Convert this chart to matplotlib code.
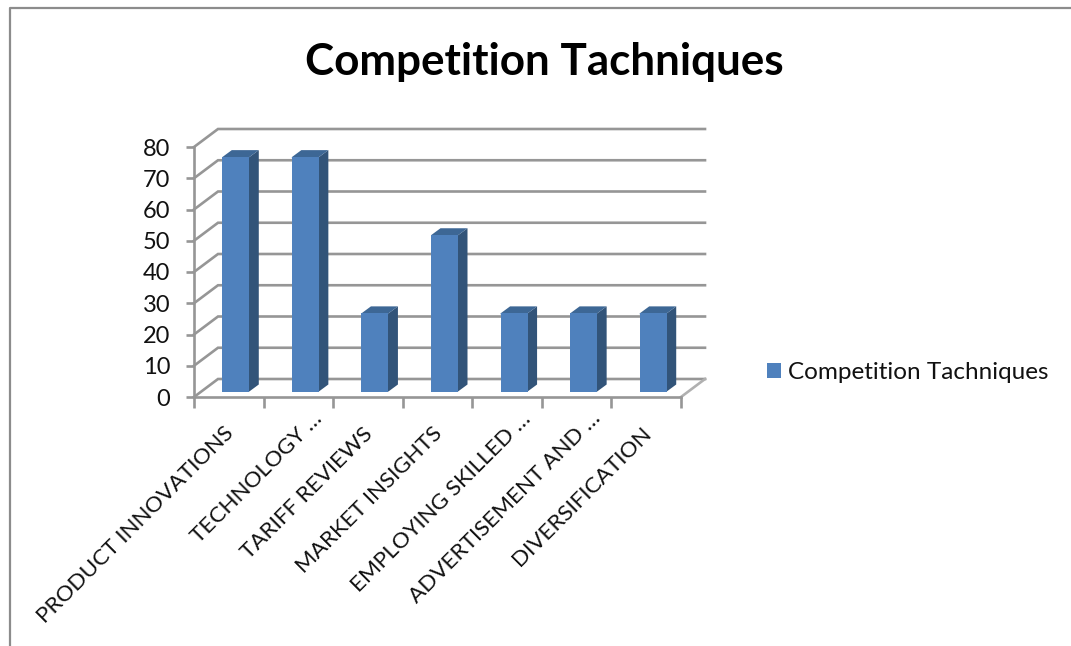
import matplotlib.pyplot as plt
from matplotlib.lines import Line2D
from matplotlib.patches import Polygon
from matplotlib.transforms import ScaledTranslation

plt.rcParams['font.family'] = ['Lato', 'DejaVu Sans']

categories = ['PRODUCT INNOVATIONS', 'TECHNOLOGY …', 'TARIFF REVIEWS', 'MARKET INSIGHTS',
              'EMPLOYING SKILLED …', 'ADVERTISEMENT AND …', 'DIVERSIFICATION']
values = [75, 75, 25, 50, 25, 25, 25]
y_ticks = [0, 10, 20, 30, 40, 50, 60, 70, 80]
series_name = 'Competition Tachniques'

W, H = 1071, 646
grid_col = '#969696'
face_col = '#4f81bd'
side_col = '#325479'
top_col = '#3d6795'

fig = plt.figure(figsize=(W / 100, H / 100), dpi=100)
# front plane of the fake 3d box
ax = fig.add_axes([194 / W, 1 - 397 / H, 487 / W, 250 / H])
ax.set_xlim(0, 7)
ax.set_ylim(0, 80)

# pixel sizes in data units
px = 7 / 487
py = 80 / 250
wall_x, wall_y = 24 * px, 18 * py

# back wall and floor
for v in y_ticks:
    ax.plot([0, wall_x, 7 + wall_x], [v, v + wall_y, v + wall_y], color=grid_col, lw=1.9,
            clip_on=False, zorder=1, solid_joinstyle='miter')
ax.plot([7, 7 + wall_x], [0, wall_y], color='#b0b0b0', lw=1.9, clip_on=False, zorder=1)

# bars
off_x, off_y = 7 * px, 5.5 * py
bar_w = 27 * px
dep_x, dep_y = 9.5 * px, 7 * py
pos = [i + 0.5 + off_x for i in range(len(values))]
for x, v in zip(pos, values):
    r = x + bar_w / 2
    l = x - bar_w / 2
    t = v + off_y
    # start a little under the front face so no white seam shows
    ax.add_patch(Polygon([(r - px, off_y), (r, off_y), (r + dep_x, off_y + dep_y),
                          (r + dep_x, t + dep_y), (r, t), (r - px, t)],
                         facecolor=side_col, lw=0, zorder=2.5, clip_on=False))
    ax.add_patch(Polygon([(l, t - py), (l, t), (l + dep_x, t + dep_y), (r + dep_x, t + dep_y),
                          (r, t), (r, t - py)],
                         facecolor=top_col, lw=0, zorder=2.5, clip_on=False))
rects = ax.bar(pos, values, width=bar_w, bottom=off_y, color=face_col, zorder=3,
               clip_on=False, label=series_name)

for s in ['top', 'right']:
    ax.spines[s].set_visible(False)
for s in ['left', 'bottom']:
    ax.spines[s].set_color(grid_col)
    ax.spines[s].set_linewidth(1.9)

ax.set_yticks(y_ticks)
ax.tick_params(axis='y', labelsize=17, length=6, width=1.9, color=grid_col, pad=11, labelcolor='#111111')
ax.set_xticks(range(8))
ax.set_xticklabels([])
ax.tick_params(axis='x', which='major', length=8, width=1.9, color=grid_col)
ax.set_xticks([i + 0.5 for i in range(7)], minor=True)
ax.set_xticklabels(categories, minor=True, rotation=45, ha='right', va='top',
                   rotation_mode='anchor', fontsize=16.2, color='#111111')
ax.tick_params(axis='x', which='minor', length=0, pad=19)

# cut off labels sit further along the slant in the original
for lab in ax.get_xticklabels(minor=True):
    if lab.get_text().endswith('…'):
        shift = ScaledTranslation(0.14, 0.15, fig.dpi_scale_trans)
    else:
        shift = ScaledTranslation(-0.05, 0, fig.dpi_scale_trans)
    lab.set_transform(lab.get_transform() + shift)

fig.text(544 / W, 1 - 62 / H, series_name, ha='center', va='center', fontsize=31.7,
         fontweight='bold', color='black')

ax.legend(handles=[rects], loc='center left', bbox_to_anchor=(767 / W, 1 - 372.5 / H),
          bbox_transform=fig.transFigure, frameon=False, fontsize=17.5, handlelength=0.58,
          handleheight=0.58, handletextpad=0.28, borderpad=0, borderaxespad=0, labelcolor='#111111')

# chart area border, only top and left are inside the crop
fig.add_artist(Line2D([10 / W, 10 / W, 1], [0, 1 - 8 / H, 1 - 8 / H], color='#8c8c8c', lw=1.6))

fig.savefig('out.png', dpi=100)
